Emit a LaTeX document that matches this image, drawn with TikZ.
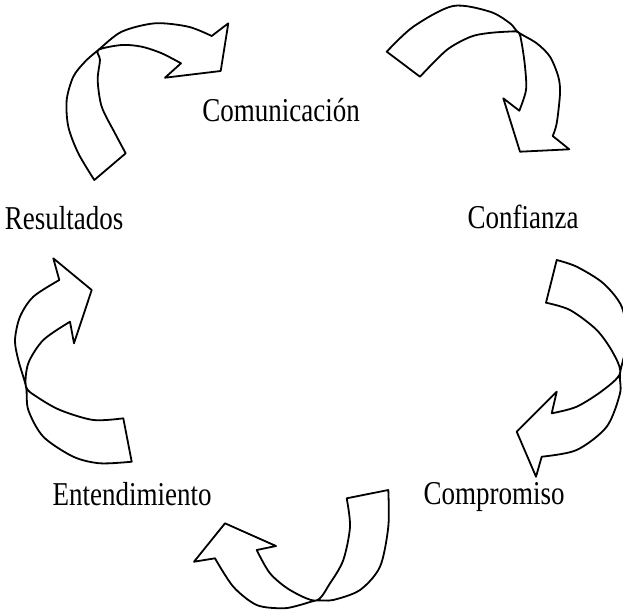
\documentclass[tikz,border=0pt]{standalone}
\usepackage{fontspec}
\setmainfont{Liberation Serif}
\usepackage{graphicx}
\tikzset{
  ribbon/.style={draw=black, line width=1.35pt, line join=round, fill=white},
  lbl/.style={anchor=base, inner sep=0pt, font=\fontsize{25}{30}\selectfont},
}
\newcommand{\narrow}[1]{\scalebox{0.81}[1]{#1}}
\begin{document}
\begin{tikzpicture}[x=0.75pt, y=-0.75pt]
\useasboundingbox (0,0) rectangle (623,611);
\clip (0,0) rectangle (623,611);

% Arrow 1 (top left)
\draw[ribbon] plot[smooth] coordinates {(94.3,180) (78.3,153.3) (68.3,126.7) (66.7,100) (73.3,76.7) (85,61.7) (98.3,50) (121.7,31.7) (155,23.3) (188.3,26.7) (211.7,36)}
  -- (228.3,23.3) -- (220.7,71) -- (165,77.7) -- (181,63.3)
  -- plot[smooth] coordinates {(181,63.3) (161.7,53.3) (141.7,46.7) (121.7,45) (98.3,50) (100,60) (97.7,80) (101.7,106.7) (115,133.3) (125.7,153.3)}
  -- cycle;

% Arrow 2 (top right)
\draw[ribbon] plot[smooth] coordinates {(386.7,51.7) (413.3,26.7) (453,6) (490,11.7) (510,23.3) (518.3,32.3) (536.7,43.3) (550,56.7) (558.3,76.7) (560,93.3) (556.7,123.3) (552.7,136)}
  -- (569.3,149.3) -- (520,151.7) -- (503.3,98.3) -- (519.3,110.7)
  -- plot[smooth] coordinates {(519.3,110.7) (526,90) (525,66.7) (521.7,43.3) (518.3,32.3) (506.7,31.7) (486.7,33.3) (470,37) (446.7,50) (420,76.7)}
  -- cycle;

% Arrow 3 (right)
\draw[ribbon] plot[smooth] coordinates {(556.7,260) (576.7,266.7) (603.3,283.3) (621.7,306.7) (627,340) (620,373.3) (620,393.3) (606.7,426.7) (576.7,450) (541.7,456.7)}
  -- (536,476.7) -- (516.7,431.7) -- (556.7,391.7) -- (551.7,413.3)
  -- plot[smooth] coordinates {(551.7,413.3) (576.7,406.7) (603.3,390) (620,373.3) (613.3,353.3) (596.7,330) (570,310) (546,302.7)}
  -- cycle;

% Arrow 4 (bottom)
\draw[ribbon] plot[smooth] coordinates {(388.3,490) (388.3,526.7) (380,566.7) (360,590) (333,600) (316,600.5) (300,605) (283.3,608.3) (256.7,605) (233.3,586.7) (215,558.3)}
  -- (194,561.7) -- (225,523.3) -- (276,546) -- (256.7,550)
  -- plot[smooth] coordinates {(256.7,550) (270,573.3) (290,590) (316,600.5) (330,583.3) (343.3,560) (350,526.7) (346.7,498.3)}
  -- cycle;

% Arrow 5 (left)
\draw[ribbon] plot[smooth] coordinates {(131.7,461.7) (100,463.3) (73.3,456.7) (43.3,436.7) (28.3,410) (26,386.7) (18.3,360) (15,340) (20,316.7) (33.3,296.7) (59.3,280)}
  -- (53.3,258.3) -- (91.7,290) -- (74,343.3) -- (70,321.7)
  -- plot[smooth] coordinates {(70,321.7) (43.3,340) (28.3,363.3) (26,386.7) (36.7,396.7) (60,410) (93.3,420) (123.3,418.3)}
  -- cycle;

% Labels
\node[lbl] (com) at (281,121.7) {\narrow{Comunicación}};
\node[lbl] (res) at (64,229) {\narrow{Resultados}};
\node[lbl] (con) at (523,228.5) {\narrow{Confianza}};
\node[lbl] (ent) at (132,505) {\narrow{Entendimiento}};
\node[lbl] (cmp) at (494,504.5) {\narrow{Compromiso}};
\end{tikzpicture}
\end{document}
